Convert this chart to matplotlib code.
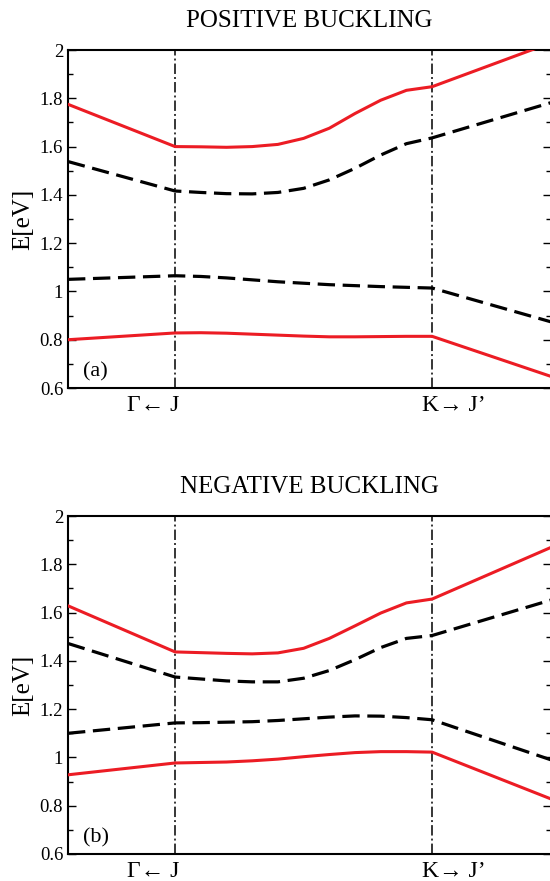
import matplotlib
matplotlib.use("Agg")
import matplotlib.pyplot as plt
from matplotlib.ticker import MultipleLocator

plt.rcParams['font.family'] = ['Liberation Serif', 'DejaVu Serif']
plt.rcParams['lines.scale_dashes'] = False

# k-path: J -> Gamma ... K -> J'
k = [0.0, 1.0, 1.24, 1.48, 1.72, 1.96, 2.2, 2.44, 2.68, 2.92, 3.16, 3.4, 4.51]
k_gamma = 1.0
k_K = 3.4

# positive buckling bands
pos_c2 = [1.775, 1.600, 1.599, 1.597, 1.600, 1.609, 1.634, 1.676, 1.737, 1.792, 1.833, 1.848, 2.03]
pos_c1 = [1.538, 1.416, 1.410, 1.405, 1.404, 1.410, 1.427, 1.462, 1.510, 1.565, 1.612, 1.636, 1.782]
pos_v1 = [1.050, 1.065, 1.062, 1.056, 1.048, 1.040, 1.034, 1.028, 1.024, 1.020, 1.017, 1.014, 0.874]
pos_v2 = [0.800, 0.828, 0.829, 0.827, 0.823, 0.819, 0.815, 0.812, 0.812, 0.813, 0.814, 0.814, 0.648]

# negative buckling bands
neg_c2 = [1.628, 1.437, 1.434, 1.431, 1.429, 1.433, 1.452, 1.493, 1.545, 1.598, 1.640, 1.656, 1.870]
neg_c1 = [1.472, 1.333, 1.325, 1.317, 1.313, 1.313, 1.328, 1.360, 1.405, 1.455, 1.493, 1.505, 1.652]
neg_v1 = [1.100, 1.143, 1.144, 1.146, 1.148, 1.153, 1.160, 1.167, 1.172, 1.171, 1.165, 1.156, 0.990]
neg_v2 = [0.928, 0.977, 0.979, 0.981, 0.986, 0.993, 1.003, 1.012, 1.020, 1.024, 1.024, 1.022, 0.828]

RED = '#ec1c24'

fig = plt.figure(figsize=(5.5, 8.81), dpi=100)
ax_a = fig.add_axes([0.12364, 0.55959, 0.87818, 0.38365])
ax_b = fig.add_axes([0.12364, 0.03065, 0.87818, 0.38365])

panels = [
    (ax_a, 'POSITIVE BUCKLING', '(a)', [pos_c2, pos_c1, pos_v1, pos_v2]),
    (ax_b, 'NEGATIVE BUCKLING', '(b)', [neg_c2, neg_c1, neg_v1, neg_v2]),
]

for ax, title, tag, bands in panels:
    for kx in (k_gamma, k_K):
        ax.axvline(kx, color='black', lw=1.1, dashes=(7.5, 2.2, 1.4, 2.2), zorder=1)

    styles = ['red', 'dash', 'dash', 'red']
    for band, st in zip(bands, styles):
        if st == 'red':
            ax.plot(k, band, color=RED, lw=2.2, zorder=3)
        else:
            ax.plot(k, band, color='black', lw=2.3, dashes=(12.5, 5.5), zorder=2)

    ax.set_xlim(0, 4.51)
    ax.set_ylim(0.6, 2.0)
    ax.set_xticks([])
    ax.yaxis.set_major_locator(MultipleLocator(0.2))
    ax.yaxis.set_minor_locator(MultipleLocator(0.1))
    ax.set_yticks([0.6, 0.8, 1.0, 1.2, 1.4, 1.6, 1.8, 2.0])
    ax.set_yticklabels(['0.6', '0.8', '1', '1.2', '1.4', '1.6', '1.8', '2'])
    ax.tick_params(axis='y', which='major', direction='in', length=6, width=1.0,
                   labelsize=13.5, pad=3.5, left=True, right=True)
    ax.tick_params(axis='y', which='minor', direction='in', length=3.6, width=1.0,
                   left=True, right=True)
    for sp in ax.spines.values():
        sp.set_linewidth(1.5)

    ax.text(0.5, 1 + 23 / 338, title, transform=ax.transAxes, ha='center',
            va='baseline', fontsize=18)
    ax.text(-0.0932, 0.5, 'E[eV]', transform=ax.transAxes, rotation=90,
            ha='center', va='center', fontsize=18)
    ax.text(0.031, 0.018, tag, transform=ax.transAxes, ha='left', va='bottom',
            fontsize=16)

    ax.text(k_gamma + 0.04, -0.022, '\u0393\u2190 J', transform=ax.get_xaxis_transform(),
            ha='right', va='top', fontsize=17)
    ax.text(k_K - 0.09, -0.022, 'K\u2192 J\u2019', transform=ax.get_xaxis_transform(),
            ha='left', va='top', fontsize=17)

fig.savefig('out.png', dpi=100)
